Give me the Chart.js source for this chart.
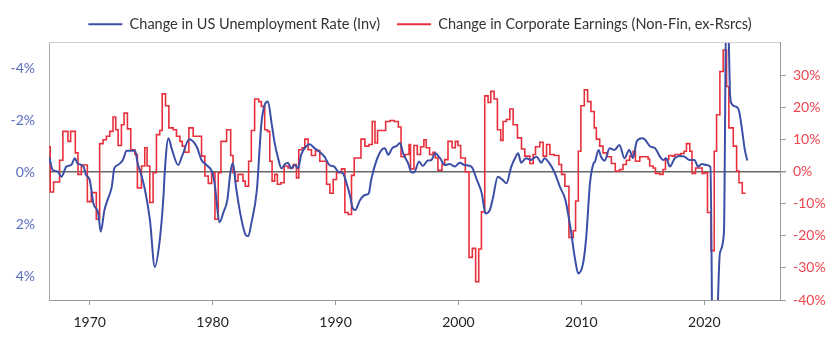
<!DOCTYPE html>
<html lang="en">
<head>
<meta charset="UTF-8">
<title>Unemployment vs Corporate Earnings</title>
<style>
  body { margin: 0; background: #fff; }
  #wrap { width: 840px; height: 346px; }
</style>
</head>
<body>
<div id="wrap"><canvas id="chart" width="840" height="346"></canvas></div>
<script src="https://cdn.jsdelivr.net/npm/chart.js"></script>
<script>
// Change in US unemployment rate, pp (plotted on an inverted axis)
const unempYears = [
  1966.71, 1967.0, 1967.4, 1967.7, 1968.1, 1968.5, 1968.8, 1969.0, 1969.5, 1969.7,
  1970.0, 1970.3, 1970.7, 1970.9, 1971.2, 1971.5, 1971.8, 1972.0, 1972.3, 1972.7,
  1973.0, 1973.7, 1973.9, 1974.2, 1974.5, 1974.9, 1975.3, 1975.7, 1976.0, 1976.1,
  1976.4, 1976.7, 1977.2, 1977.5, 1978.1, 1978.7, 1979.1, 1979.5, 1980.0, 1980.2,
  1980.55, 1980.9, 1981.2, 1981.45, 1981.65, 1981.9, 1982.3, 1982.7, 1982.9, 1983.15,
  1983.6, 1983.97, 1984.24, 1984.5, 1984.8, 1985.05, 1985.3, 1985.6, 1985.9, 1986.14,
  1986.4, 1986.7, 1986.96, 1987.2, 1987.6, 1987.9, 1988.3, 1988.7, 1989.1, 1989.5,
  1989.9, 1990.2, 1990.6, 1990.9, 1991.2, 1991.4, 1991.6, 1992.0, 1992.4, 1992.7,
  1992.9, 1993.3, 1993.75, 1994.0, 1994.3, 1994.6, 1994.97, 1995.25, 1995.5, 1995.9,
  1996.2, 1996.4, 1996.8, 1997.1, 1997.5, 1997.8, 1998.1, 1998.5, 1998.9, 1999.3,
  1999.7, 2000.1, 2000.5, 2001.05, 2001.5, 2001.9, 2002.2, 2002.55, 2002.8, 2003.2,
  2003.6, 2003.9, 2004.3, 2004.6, 2004.85, 2005.1, 2005.5, 2005.9, 2006.35, 2006.75,
  2007.0, 2007.4, 2007.85, 2008.25, 2008.7, 2009.1, 2009.5, 2009.75, 2010.16, 2010.4,
  2010.7, 2011.0, 2011.1, 2011.4, 2011.6, 2011.9, 2012.3, 2012.7, 2013.1, 2013.5,
  2013.9, 2014.2, 2014.5, 2014.9, 2015.15, 2015.6, 2016.0, 2016.4, 2016.65, 2016.9,
  2017.2, 2017.6, 2018.0, 2018.4, 2018.8, 2019.2, 2019.5, 2019.8, 2020.2, 2020.5,
  2020.75, 2021.27, 2021.6, 2021.8, 2021.95, 2022.08, 2022.2, 2022.5, 2022.8, 2023.0,
  2023.3, 2023.5
];
const unempChange = [
  -0.58, -0.09, -0.03, 0.17, -0.22, -0.28, -0.54, -0.35, -0.22, 0.10,
  0.29, 1.19, 1.58, 2.28, 1.45, 1.0, 0.55, -0.15, -0.28, -0.47,
  -0.83, -0.83, -0.35, 0.10, 0.68, 1.83, 3.63, 2.6, 0.94, 0.04,
  -1.31, -0.86, -0.28, -0.6, -1.27, -0.99, -0.47, -0.28, 0.04, 0.55,
  1.92, 1.51, 1.06, 0.0, -0.36, 0.55, 1.7, 2.41, 2.45, 1.96,
  0.68, -1.88, -2.59, -2.72, -1.88, -1.12, -0.6, -0.15, -0.32, -0.37,
  -0.15, -0.28, -0.15, -0.67, -0.99, -1.08, -0.92, -0.79, -0.6, -0.28,
  -0.22, -0.03, 0.04, 0.42, 0.94, 1.38, 1.45, 1.06, 0.87, 0.81,
  0.29, -0.41, -0.86, -0.92, -0.67, -0.92, -1.01, -1.12, -0.73, -0.35,
  0.01, 0.0, -0.41, -0.24, -0.45, -0.47, -0.73, -0.54, -0.28, -0.32,
  -0.22, -0.37, -0.28, -0.22, 0.29, 0.81, 1.58, 1.45, 1.0, 0.17,
  0.29, 0.42, -0.22, -0.54, -0.73, -0.37, -0.54, -0.47, -0.6, -0.37,
  -0.54, -0.35, 0.04, 0.55, 1.06, 2.09, 3.37, 3.88, 3.44, 2.47,
  0.42, -0.35, -0.4, -0.86, -0.6, -0.45, -0.92, -0.86, -1.05, -0.54,
  -0.86, -0.54, -1.18, -1.31, -1.27, -0.99, -0.92, -0.6, -0.47, -0.54,
  -0.22, -0.54, -0.63, -0.6, -0.47, -0.47, -0.22, -0.32, -0.28, -0.2,
  10.5, 3.1, 2.3, -7.0, -6.0, -3.17, -2.65, -2.53, -2.4, -1.88,
  -0.86, -0.45
];

// Change in corporate earnings (non-fin, ex-resources), %, quarterly steps
const earnYears = [
  1966.69, 1966.79, 1967.06, 1967.55, 1967.82, 1968.23, 1968.45, 1968.83, 1969.05, 1969.32,
  1969.81, 1970.13, 1970.54, 1970.81, 1971.09, 1971.36, 1971.63, 1971.9, 1972.12, 1972.31,
  1972.58, 1972.8, 1973.07, 1973.34, 1973.67, 1973.88, 1974.21, 1974.48, 1974.67, 1974.89,
  1975.16, 1975.43, 1975.7, 1975.9, 1976.17, 1976.44, 1976.79, 1977.06, 1977.34, 1977.53,
  1977.74, 1978.07, 1978.42, 1979.1, 1979.37, 1979.65, 1979.92, 1980.19, 1980.46, 1980.68,
  1981.14, 1981.47, 1981.66, 1981.85, 1982.07, 1982.47, 1982.66, 1982.93, 1983.15, 1983.42,
  1983.75, 1983.97, 1984.24, 1984.46, 1984.65, 1984.84, 1985.05, 1985.27, 1985.54, 1985.82,
  1986.14, 1986.55, 1986.82, 1987.01, 1987.28, 1987.5, 1987.77, 1988.04, 1988.37, 1988.72,
  1989.27, 1989.54, 1989.81, 1990.08, 1990.49, 1990.76, 1991.03, 1991.3, 1991.52, 1992.07,
  1992.39, 1992.72, 1992.99, 1993.21, 1993.42, 1994.08, 1994.43, 1994.78, 1995.11, 1995.33,
  1995.65, 1995.98, 1996.1, 1996.38, 1996.65, 1996.92, 1997.19, 1997.38, 1997.65, 1997.93,
  1998.12, 1998.33, 1998.66, 1998.88, 1999.15, 1999.48, 1999.75, 1999.96, 2000.18, 2000.56,
  2000.86, 2001.13, 2001.4, 2001.65, 2001.87, 2002.14, 2002.41, 2002.63, 2002.9, 2003.17,
  2003.44, 2003.63, 2003.9, 2004.18, 2004.45, 2004.8, 2005.13, 2005.4, 2005.81, 2006.08,
  2006.27, 2006.62, 2006.89, 2007.17, 2007.44, 2007.79, 2008.17, 2008.39, 2008.66, 2008.99,
  2009.34, 2009.53, 2009.75, 2009.96, 2010.24, 2010.51, 2010.78, 2011.05, 2011.22, 2011.49,
  2011.76, 2012.11, 2012.44, 2012.76, 2013.12, 2013.39, 2013.66, 2013.93, 2014.21, 2014.4,
  2014.75, 2015.43, 2015.56, 2015.84, 2016.03, 2016.38, 2016.65, 2016.84, 2017.11, 2017.38,
  2017.6, 2018.09, 2018.36, 2018.55, 2018.82, 2019.0, 2019.29, 2019.83, 2020.05, 2020.26,
  2020.54, 2020.81, 2021.0, 2021.27, 2021.54, 2021.81, 2022.0, 2022.36, 2022.63, 2022.82,
  2023.09, 2023.36
];
const earnChange = [
  7.8, -6.3, -3.2, 3.6, 12.6, 9.5, 12.6, 5.9, -0.8, 2.1,
  -9.3, -6.5, -14.8, 8.8, 10.0, 11.1, 12.6, 17.1, 13.1, 8.2,
  14.7, 18.3, 13.4, 6.9, 5.4, -5.0, 1.8, 7.5, 1.8, -9.6,
  -0.3, 11.6, 12.9, 24.3, 20.6, 13.7, 13.1, 11.1, 9.5, 8.0,
  6.1, 13.7, 11.1, 4.9, -1.3, -3.6, -0.3, -14.8, -0.3, 9.5,
  13.1, 5.1, -0.3, -2.9, -0.8, -2.9, -4.5, 3.3, 12.9, 22.7,
  21.9, 20.4, 13.1, 12.6, 3.3, -2.9, -0.8, -3.9, -3.4, 1.8,
  1.2, 2.3, -1.9, 6.9, 7.5, 10.2, 6.9, 5.1, 6.6, 3.3,
  -3.9, -6.7, -2.4, -0.3, 0.9, -12.7, -13.3, -1.1, 4.3, 10.2,
  8.0, 8.5, 15.7, 9.0, 12.9, 15.7, 16.0, 15.7, 14.0, 4.7,
  5.4, 8.5, 0.9, 8.2, 5.4, 7.8, 10.0, 7.5, 5.4, 6.1,
  4.3, 0.5, 2.3, 3.8, 9.5, 7.5, 9.5, 8.2, 4.3, 0.0,
  -26.7, -23.9, -34.3, -24.1, -12.5, 23.7, 21.6, 25.1, 22.7, 13.1,
  9.8, 15.7, 16.3, 19.6, 14.7, 10.6, 7.1, 4.9, 2.6, 5.4,
  7.8, 9.2, 4.9, 8.5, 5.4, 5.1, 2.3, -0.8, -4.5, -20.5,
  -18.4, -9.1, 6.4, 20.6, 25.6, 21.9, 18.8, 13.7, 10.2, 8.0,
  5.9, 4.7, 2.6, 0.2, 0.7, 2.3, 3.6, 4.9, 6.4, 3.3,
  4.7, 4.0, 1.8, 1.2, -0.5, -0.8, 0.7, 3.8, 5.1, 4.9,
  5.4, 5.7, 6.4, 8.8, 6.4, -0.5, 1.2, -0.5, -0.3, -12.7,
  -24.6, 6.4, 17.8, 31.3, 38.0, 26.6, 13.7, 8.0, 0.2, -3.4,
  -6.7, -6.7
];

const xTicks = [1970, 1980, 1990, 2000, 2010, 2020];
const leftTicks = [-4, -2, 0, 2, 4];
const rightTicks = [-40, -30, -20, -10, 0, 10, 20, 30];

const BLUE = '#3c4fa6';
const RED = '#e8303c';

// frame line along the top of the plot area
const topBorder = {
  id: 'topBorder',
  afterDraw(chart) {
    const { ctx, chartArea: a } = chart;
    ctx.save();
    ctx.strokeStyle = '#cfcfcf';
    ctx.lineWidth = 1;
    ctx.beginPath();
    ctx.moveTo(a.left, a.top + 0.5);
    ctx.lineTo(a.right, a.top + 0.5);
    ctx.stroke();
    ctx.restore();
  }
};

// fixed legend band height
const legendHeight = {
  id: 'legendHeight',
  beforeInit(chart) {
    const fit = chart.legend.fit;
    chart.legend.fit = function () {
      fit.call(this);
      this.height = 42;
    };
  }
};

Chart.defaults.font.family = 'Lato, "Open Sans", sans-serif';
Chart.defaults.font.size = 14;

new Chart(document.getElementById('chart'), {
  type: 'line',
  data: {
    datasets: [
      {
        label: 'Change in US Unemployment Rate (Inv)',
        data: unempYears.map((x, i) => ({ x, y: unempChange[i] })),
        yAxisID: 'y',
        borderColor: BLUE,
        backgroundColor: BLUE,
        borderWidth: 2,
        pointRadius: 0,
        cubicInterpolationMode: 'monotone'
      },
      {
        label: 'Change in Corporate Earnings (Non-Fin, ex-Rsrcs)',
        data: earnYears.map((x, i) => ({ x, y: earnChange[i] })),
        yAxisID: 'y1',
        borderColor: RED,
        backgroundColor: RED,
        borderWidth: 1.6,
        pointRadius: 0,
        stepped: true
      }
    ]
  },
  options: {
    responsive: false,
    animation: false,
    devicePixelRatio: 1,
    layout: { padding: 0 },
    plugins: {
      tooltip: { enabled: false },
      legend: {
        position: 'top',
        align: 'center',
        labels: {
          color: '#333',
          boxWidth: 34,
          boxHeight: 2,
          padding: 17,
          font: { size: 14.5 },
          generateLabels(chart) {
            return chart.data.datasets.map((ds, i) => ({
              text: ds.label,
              fillStyle: ds.borderColor,
              strokeStyle: ds.borderColor,
              lineWidth: 0,
              fontColor: '#333',
              datasetIndex: i
            }));
          }
        }
      }
    },
    scales: {
      x: {
        type: 'linear',
        min: 1966.69,
        max: 2026.16,
        afterBuildTicks(s) { s.ticks = xTicks.map(v => ({ value: v })); },
        afterFit(s) { s.height = 46; },
        ticks: {
          color: '#222',
          padding: 9,
          maxRotation: 0,
          callback: v => String(v)
        },
        grid: {
          drawOnChartArea: false,
          tickLength: 5,
          tickColor: '#999'
        },
        border: { color: '#999' }
      },
      y: {
        position: 'left',
        reverse: true,
        min: -5,
        max: 4.9,
        afterBuildTicks(s) { s.ticks = leftTicks.map(v => ({ value: v })); },
        afterFit(s) { s.width = 49; },
        ticks: {
          color: '#5a6cc0',
          padding: 14,
          callback: v => v + '%'
        },
        grid: { display: false, drawTicks: false },
        border: { color: '#aaa' }
      },
      y1: {
        position: 'right',
        min: -40,
        max: 40.5,
        afterBuildTicks(s) { s.ticks = rightTicks.map(v => ({ value: v })); },
        afterFit(s) { s.width = 60; },
        ticks: {
          color: '#ee4650',
          padding: 7,
          callback: v => v + '%'
        },
        grid: {
          drawOnChartArea: true,
          color: c => (c.tick && c.tick.value === 0) ? '#666' : 'rgba(0,0,0,0)',
          lineWidth: c => (c.tick && c.tick.value === 0) ? 1.5 : 1,
          tickColor: '#999',
          tickLength: 6
        },
        border: { color: '#999' }
      }
    }
  },
  plugins: [legendHeight, topBorder]
});
</script>
</body>
</html>
